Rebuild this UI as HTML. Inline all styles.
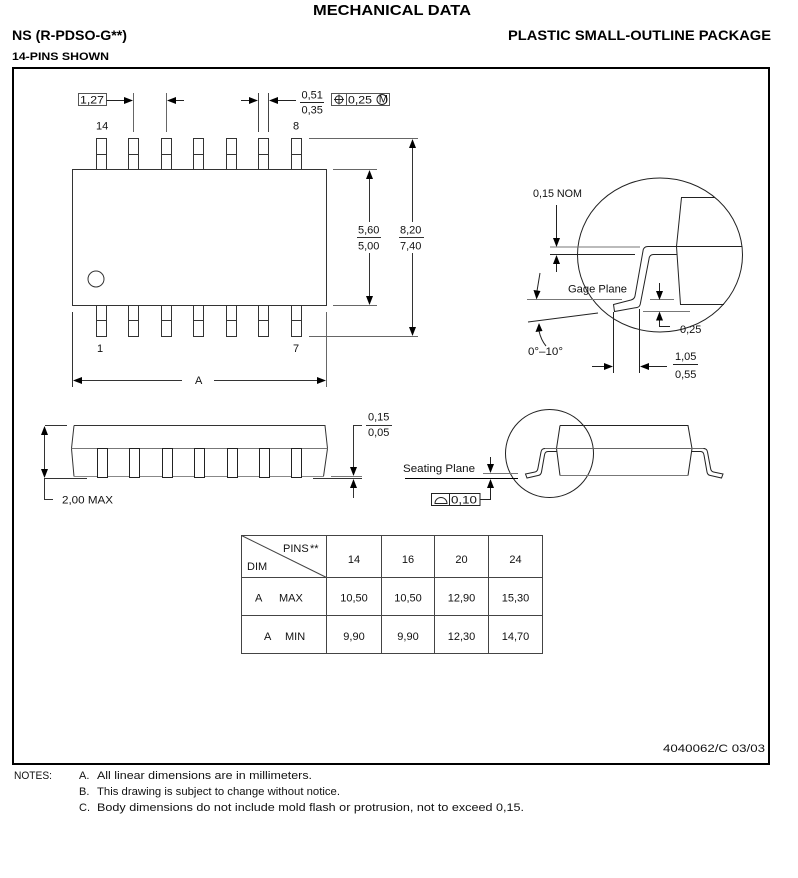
<!DOCTYPE html>
<html>
<head>
<meta charset="utf-8">
<style>
html,body{margin:0;padding:0;background:#fff;}
svg{display:block;}
.t{font-family:"Liberation Sans",sans-serif;font-size:11px;fill:#111;}
.h{font-family:"Liberation Sans",sans-serif;font-weight:bold;fill:#000;}
</style>
</head>
<body>
<svg width="798" height="878" viewBox="0 0 798 878" xmlns="http://www.w3.org/2000/svg">
<rect width="798" height="878" fill="#fff"/>

<!-- Headers -->
<text class="h" x="313" y="15" font-size="15" textLength="158" lengthAdjust="spacingAndGlyphs">MECHANICAL DATA</text>
<text class="h" x="12" y="40" font-size="14" textLength="115" lengthAdjust="spacingAndGlyphs">NS (R-PDSO-G**)</text>
<text class="h" x="508" y="40" font-size="14" textLength="263" lengthAdjust="spacingAndGlyphs">PLASTIC SMALL-OUTLINE PACKAGE</text>
<text class="h" x="12" y="60" font-size="11" textLength="97" lengthAdjust="spacingAndGlyphs">14-PINS SHOWN</text>

<!-- Frame -->
<rect x="13" y="68" width="756" height="696" fill="none" stroke="#000" stroke-width="2"/>

<!-- ===== TOP VIEW ===== -->
<g stroke="#333" stroke-width="1" fill="none">
  <rect x="72.5" y="169.5" width="254" height="136"/>
  <!-- top pins -->
  <rect x="96.5" y="138.5" width="10" height="31"/><line x1="96.5" y1="154.5" x2="106.5" y2="154.5"/>
  <rect x="128.5" y="138.5" width="10" height="31"/><line x1="128.5" y1="154.5" x2="138.5" y2="154.5"/>
  <rect x="161.5" y="138.5" width="10" height="31"/><line x1="161.5" y1="154.5" x2="171.5" y2="154.5"/>
  <rect x="193.5" y="138.5" width="10" height="31"/><line x1="193.5" y1="154.5" x2="203.5" y2="154.5"/>
  <rect x="226.5" y="138.5" width="10" height="31"/><line x1="226.5" y1="154.5" x2="236.5" y2="154.5"/>
  <rect x="258.5" y="138.5" width="10" height="31"/><line x1="258.5" y1="154.5" x2="268.5" y2="154.5"/>
  <rect x="291.5" y="138.5" width="10" height="31"/><line x1="291.5" y1="154.5" x2="301.5" y2="154.5"/>
  <!-- bottom pins -->
  <rect x="96.5" y="305.5" width="10" height="31"/><line x1="96.5" y1="320.5" x2="106.5" y2="320.5"/>
  <rect x="128.5" y="305.5" width="10" height="31"/><line x1="128.5" y1="320.5" x2="138.5" y2="320.5"/>
  <rect x="161.5" y="305.5" width="10" height="31"/><line x1="161.5" y1="320.5" x2="171.5" y2="320.5"/>
  <rect x="193.5" y="305.5" width="10" height="31"/><line x1="193.5" y1="320.5" x2="203.5" y2="320.5"/>
  <rect x="226.5" y="305.5" width="10" height="31"/><line x1="226.5" y1="320.5" x2="236.5" y2="320.5"/>
  <rect x="258.5" y="305.5" width="10" height="31"/><line x1="258.5" y1="320.5" x2="268.5" y2="320.5"/>
  <rect x="291.5" y="305.5" width="10" height="31"/><line x1="291.5" y1="320.5" x2="301.5" y2="320.5"/>
  <circle cx="96" cy="279" r="8"/>
</g>
<text class="t" x="96" y="129.5">14</text>
<text class="t" x="293" y="129.5">8</text>
<text class="t" x="97" y="352">1</text>
<text class="t" x="293" y="352">7</text>

<!-- 1,27 dim -->
<g stroke="#222" stroke-width="1" fill="none">
  <rect x="78.5" y="93.5" width="28" height="12" stroke="#555"/>
  <line x1="106.5" y1="100.5" x2="125" y2="100.5"/>
  <line x1="133.5" y1="93" x2="133.5" y2="132" stroke="#666"/>
  <line x1="166.5" y1="93" x2="166.5" y2="132" stroke="#666"/>
  <line x1="176" y1="100.5" x2="184" y2="100.5"/>
  <line x1="241" y1="100.5" x2="249" y2="100.5"/>
  <line x1="258.5" y1="93" x2="258.5" y2="132" stroke="#444"/>
  <line x1="268.5" y1="93" x2="268.5" y2="132" stroke="#444"/>
  <line x1="278" y1="100.5" x2="296" y2="100.5"/>
  <line x1="300" y1="102.5" x2="324" y2="102.5"/>
  <rect x="331.5" y="93.5" width="58" height="12" stroke="#555"/>
  <line x1="346.5" y1="93.5" x2="346.5" y2="105.5" stroke="#555"/>
  <circle cx="339" cy="99.5" r="3.8"/>
  <line x1="339" y1="94.5" x2="339" y2="104.5"/>
  <line x1="334" y1="99.5" x2="344" y2="99.5"/>
  <circle cx="382" cy="99.5" r="5"/>
</g>
<g fill="#000">
  <polygon points="124,97 133,100.5 124,104"/>
  <polygon points="167,100.5 176,97 176,104"/>
  <polygon points="249,97 258,100.5 249,104"/>
  <polygon points="269,100.5 278,97 278,104"/>
</g>
<text class="t" x="80" y="103.5" textLength="24" lengthAdjust="spacingAndGlyphs">1,27</text>
<text class="t" x="301.5" y="98.5">0,51</text>
<text class="t" x="301.5" y="113.5">0,35</text>
<text class="t" x="348" y="103.5" textLength="24" lengthAdjust="spacingAndGlyphs">0,25</text>
<text class="t" x="378.7" y="102.3" font-size="7">M</text>

<!-- right vertical dims -->
<g stroke="#333" stroke-width="1" fill="none">
  <line x1="309" y1="138.5" x2="418" y2="138.5" stroke="#666"/>
  <line x1="333" y1="169.5" x2="377" y2="169.5" stroke="#666"/>
  <line x1="333" y1="305.5" x2="377" y2="305.5" stroke="#666"/>
  <line x1="309" y1="336.5" x2="418" y2="336.5" stroke="#666"/>
  <line x1="369.5" y1="179" x2="369.5" y2="222"/>
  <line x1="369.5" y1="253" x2="369.5" y2="296"/>
  <line x1="412.5" y1="148" x2="412.5" y2="222"/>
  <line x1="412.5" y1="253" x2="412.5" y2="327"/>
  <line x1="357" y1="237.5" x2="381" y2="237.5"/>
  <line x1="399" y1="237.5" x2="424" y2="237.5"/>
</g>
<g fill="#000">
  <polygon points="369.5,170 366,179 373,179"/>
  <polygon points="366,296 373,296 369.5,305"/>
  <polygon points="412.5,139 409,148 416,148"/>
  <polygon points="409,327 416,327 412.5,336"/>
</g>
<text class="t" x="358" y="233.5">5,60</text>
<text class="t" x="358" y="249.5">5,00</text>
<text class="t" x="400" y="233.5">8,20</text>
<text class="t" x="400" y="249.5">7,40</text>

<!-- A dim -->
<g stroke="#333" stroke-width="1" fill="none">
  <line x1="72.5" y1="312" x2="72.5" y2="387"/>
  <line x1="326.5" y1="312" x2="326.5" y2="387" stroke="#666"/>
  <line x1="82" y1="380.5" x2="182" y2="380.5"/>
  <line x1="214" y1="380.5" x2="317" y2="380.5"/>
</g>
<g fill="#000">
  <polygon points="73,380.5 82,377 82,384"/>
  <polygon points="317,377 326,380.5 317,384"/>
</g>
<text class="t" x="195" y="384">A</text>

<!-- ===== SIDE VIEW ===== -->
<g stroke="#333" stroke-width="1" fill="none">
  <path d="M74,425.5 L325,425.5 L327.5,448.5 L323.5,476.5 M74,425.5 L71.5,448.5 L74,476.5"/>
  <line x1="71.5" y1="448.5" x2="327.5" y2="448.5" stroke="#777"/>
  <line x1="74" y1="476.5" x2="323.5" y2="476.5" stroke="#888"/>
</g>
<g stroke="#222" stroke-width="1" fill="#fff">
  <rect x="97.5" y="448.5" width="10" height="29"/>
  <rect x="129.5" y="448.5" width="10" height="29"/>
  <rect x="162.5" y="448.5" width="10" height="29"/>
  <rect x="194.5" y="448.5" width="10" height="29"/>
  <rect x="227.5" y="448.5" width="10" height="29"/>
  <rect x="259.5" y="448.5" width="10" height="29"/>
  <rect x="291.5" y="448.5" width="10" height="29"/>
</g>
<g stroke="#333" stroke-width="1" fill="none">
  <line x1="45" y1="425.5" x2="67" y2="425.5"/>
  <line x1="45" y1="478.5" x2="87" y2="478.5"/>
  <line x1="44.5" y1="435" x2="44.5" y2="469"/>
  <path d="M44.5,478 L44.5,499.5 L53,499.5"/>
  <line x1="331" y1="476.5" x2="362" y2="476.5" stroke="#777"/>
  <line x1="313" y1="478.5" x2="362" y2="478.5"/>
  <path d="M362,425.5 L353.5,425.5 L353.5,467"/>
  <line x1="353.5" y1="488" x2="353.5" y2="498"/>
  <line x1="366" y1="425.5" x2="392" y2="425.5"/>
</g>
<g fill="#000">
  <polygon points="44.5,426 41,435 48,435"/>
  <polygon points="41,469 48,469 44.5,478"/>
  <polygon points="350,467 357,467 353.5,476"/>
  <polygon points="353.5,479 350,488 357,488"/>
</g>
<text class="t" x="62" y="503.5" textLength="51" lengthAdjust="spacingAndGlyphs">2,00 MAX</text>
<text class="t" x="368" y="420.5">0,15</text>
<text class="t" x="368" y="436">0,05</text>

<!-- ===== SEATING PLANE VIEW ===== -->
<g stroke="#222" stroke-width="1" fill="none">
  <circle cx="549.5" cy="453.5" r="44"/>
  <path d="M560,425.5 L688,425.5 L692,448.5 L688,475.5 M560,425.5 L556.5,448.5 L560,475.5"/>
  <line x1="560" y1="475.5" x2="688" y2="475.5" stroke="#777"/>
  <line x1="545" y1="448.5" x2="705" y2="448.5" stroke="#666"/>
  <path d="M556.5,451.5 L548,451.5 Q545,451.5 544.5,455 L541.5,472 Q541,475 538,475.5 L527,478 L525.5,474 L535,472 Q537.5,471.5 538,468 L541,452 Q541.5,448.5 545,448.5"/>
  <path d="M692,451.5 L700.5,451.5 Q703.5,451.5 704,455 L707,472 Q707.5,475 710.5,475.5 L721.5,478 L723,474 L713.5,472 Q711,471.5 710.5,468 L707.5,452 Q707,448.5 703.5,448.5"/>
  <line x1="405" y1="478.5" x2="518" y2="478.5" stroke="#000"/>
  <line x1="483" y1="473.5" x2="518" y2="473.5" stroke="#777"/>
  <line x1="490.5" y1="457" x2="490.5" y2="464"/>
  <path d="M490.5,488 L490.5,499.5 L480,499.5"/>
  <rect x="431.5" y="493.5" width="48.5" height="12"/>
  <line x1="449.5" y1="493.5" x2="449.5" y2="505.5"/>
  <path d="M435,503.5 A6,6 0 0 1 447,503.5 Z"/>
</g>
<g fill="#000">
  <polygon points="487,464 494,464 490.5,473"/>
  <polygon points="490.5,479 487,488 494,488"/>
</g>
<text class="t" x="403" y="472" textLength="72" lengthAdjust="spacingAndGlyphs">Seating Plane</text>
<text class="t" x="451" y="503.5" textLength="26" lengthAdjust="spacingAndGlyphs">0,10</text>

<!-- ===== DETAIL VIEW ===== -->
<g stroke="#222" stroke-width="1" fill="none">
  <ellipse cx="660" cy="255" rx="82.5" ry="77"/>
  <path d="M715,197.5 L681.5,197.5 L676.5,246.5 L680.5,304.5 L724,304.5"/>
  <line x1="676.5" y1="246.5" x2="742.5" y2="246.5"/>
  <line x1="550" y1="247" x2="640" y2="247" stroke="#777"/>
  <path d="M676.5,246.5 L648,246.5 Q643.5,246.5 643,251 L635,296 Q634.5,299 631,300 L613.5,304.5 L614.5,311.5 L637,307.5 Q640,307 640.5,303 L649,259 Q649.5,254.5 653.5,254.5 L676.5,254.5"/>
  <line x1="550" y1="254.5" x2="635" y2="254.5"/>
  <line x1="556.5" y1="205" x2="556.5" y2="238"/>
  <line x1="556.5" y1="264" x2="556.5" y2="272"/>
  <line x1="527" y1="299.5" x2="622" y2="299.5" stroke="#777"/>
  <line x1="528" y1="322" x2="598" y2="313"/>
  <path d="M540,273 L537,291"/>
  <path d="M539,331 Q541,340 546,346"/>
  <line x1="650" y1="299.5" x2="674" y2="299.5" stroke="#777"/>
  <line x1="643" y1="311.5" x2="690" y2="311.5" stroke="#777"/>
  <line x1="659.5" y1="283" x2="659.5" y2="291"/>
  <path d="M659.5,320.5 L659.5,326.5 L670,326.5"/>
  <line x1="613.5" y1="312" x2="613.5" y2="373"/>
  <line x1="639.5" y1="309" x2="639.5" y2="373"/>
  <line x1="592" y1="366.5" x2="604" y2="366.5"/>
  <line x1="649" y1="366.5" x2="667" y2="366.5"/>
  <line x1="673" y1="364.5" x2="698" y2="364.5"/>
</g>
<g fill="#000">
  <polygon points="553,238 560,238 556.5,247"/>
  <polygon points="556.5,255 553,264 560,264"/>
  <polygon points="533.5,290 540.5,291 536.5,299.5"/>
  <polygon points="539,323 535.5,332 542.5,331"/>
  <polygon points="656,291 663,291 659.5,300"/>
  <polygon points="659.5,311.5 656,320.5 663,320.5"/>
  <polygon points="604,363 613,366.5 604,370"/>
  <polygon points="640,366.5 649,363 649,370"/>
</g>
<text class="t" x="533" y="197" textLength="49" lengthAdjust="spacingAndGlyphs">0,15 NOM</text>
<text class="t" x="568" y="292.5" textLength="59" lengthAdjust="spacingAndGlyphs">Gage Plane</text>
<text class="t" x="528" y="355" textLength="35" lengthAdjust="spacingAndGlyphs">0°–10°</text>
<text class="t" x="680" y="333">0,25</text>
<text class="t" x="675" y="360">1,05</text>
<text class="t" x="675" y="378">0,55</text>

<!-- ===== TABLE ===== -->
<g stroke="#444" stroke-width="1" fill="none">
  <rect x="241.5" y="535.5" width="301" height="118"/>
  <line x1="326.5" y1="535.5" x2="326.5" y2="653.5"/>
  <line x1="381.5" y1="535.5" x2="381.5" y2="653.5"/>
  <line x1="434.5" y1="535.5" x2="434.5" y2="653.5"/>
  <line x1="488.5" y1="535.5" x2="488.5" y2="653.5"/>
  <line x1="241.5" y1="577.5" x2="542.5" y2="577.5"/>
  <line x1="241.5" y1="615.5" x2="542.5" y2="615.5"/>
  <line x1="241.5" y1="535.5" x2="326.5" y2="577.5"/>
</g>
<text class="t" x="283" y="552">PINS</text>
<text class="t" x="310" y="552" font-size="9">**</text>
<text class="t" x="247" y="570">DIM</text>
<g class="t" text-anchor="middle">
  <text class="t" x="354" y="563">14</text>
  <text class="t" x="408" y="563">16</text>
  <text class="t" x="461.5" y="563">20</text>
  <text class="t" x="515.5" y="563">24</text>
  <text class="t" x="354" y="601.5">10,50</text>
  <text class="t" x="408" y="601.5">10,50</text>
  <text class="t" x="461.5" y="601.5">12,90</text>
  <text class="t" x="515.5" y="601.5">15,30</text>
  <text class="t" x="354" y="640">9,90</text>
  <text class="t" x="408" y="640">9,90</text>
  <text class="t" x="461.5" y="640">12,30</text>
  <text class="t" x="515.5" y="640">14,70</text>
</g>
<text class="t" x="255" y="601.5">A</text>
<text class="t" x="279" y="601.5">MAX</text>
<text class="t" x="264" y="640">A</text>
<text class="t" x="285" y="640">MIN</text>

<!-- footer -->
<text class="t" x="663" y="752" textLength="102" lengthAdjust="spacingAndGlyphs">4040062/C 03/03</text>

<!-- notes -->
<text class="t" x="14" y="779" textLength="38" lengthAdjust="spacingAndGlyphs">NOTES:</text>
<text class="t" x="79" y="779">A.</text>
<text class="t" x="97" y="779" textLength="215" lengthAdjust="spacingAndGlyphs">All linear dimensions are in millimeters.</text>
<text class="t" x="79" y="795">B.</text>
<text class="t" x="97" y="795" textLength="243" lengthAdjust="spacingAndGlyphs">This drawing is subject to change without notice.</text>
<text class="t" x="79" y="811">C.</text>
<text class="t" x="97" y="811" textLength="427" lengthAdjust="spacingAndGlyphs">Body dimensions do not include mold flash or protrusion, not to exceed 0,15.</text>
</svg>
</body>
</html>
